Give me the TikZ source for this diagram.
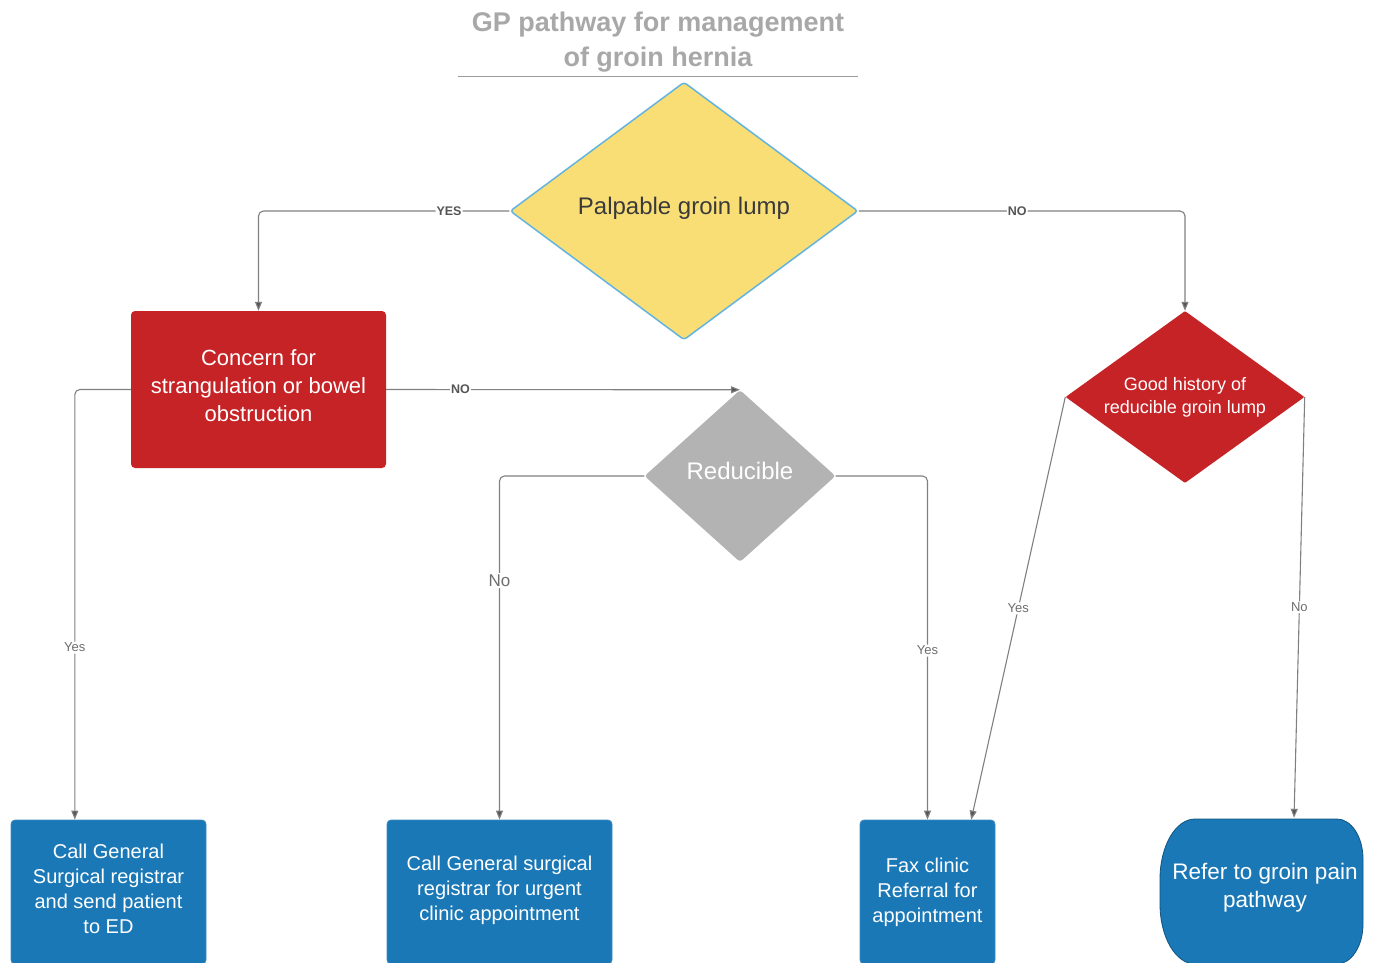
\documentclass[tikz,border=0pt]{standalone}
\usepackage{fontspec}
\setmainfont{Liberation Sans}
\usetikzlibrary{shapes.geometric,arrows.meta,calc}
\definecolor{ygold}{HTML}{F9DE75}
\definecolor{yborder}{HTML}{63B4DF}
\definecolor{cred}{HTML}{C62327}
\definecolor{cblue}{HTML}{1A78B7}
\definecolor{cgray}{HTML}{B3B3B3}
\definecolor{lgray}{HTML}{808080}
\definecolor{tgray}{HTML}{A8A8A8}
\definecolor{lblgray}{HTML}{555555}
\definecolor{dtext}{HTML}{3A3A3A}
\tikzset{
  conn/.style={draw=lgray, line width=1.1pt, rounded corners=5pt,
    -{Triangle[length=9pt,width=7pt,fill=lblgray]}},
  lblbold/.style={fill=white, inner sep=1pt, text=lblgray, font=\fontsize{12.5}{14}\selectfont\bfseries},
  lblsmall/.style={fill=white, inner sep=1.5pt, text=lblgray!85, font=\fontsize{13}{15}\selectfont},
  redbox/.style={rectangle, rounded corners=4pt, fill=cred, text=white, align=center, inner sep=0pt},
  bluebox/.style={rectangle, rounded corners=4pt, fill=cblue, draw=cblue!85!white, line width=0.8pt, text=white, align=center, inner sep=0pt,
    font=\fontsize{20}{25}\selectfont},
  dia/.style={diamond, inner sep=0pt, align=center, rounded corners=3pt}
}
\begin{document}
\begin{tikzpicture}[x=1pt,y=-1pt]
\useasboundingbox (0,0) rectangle (1377,962);
\clip (0,0) rectangle (1377,962);
\fill[white] (0,0) rectangle (1377,962);

% title
\node[font=\fontsize{27}{35}\selectfont\bfseries, text=tgray, align=center] (title) at (658,42) {GP pathway for management\\of groin hernia};
\draw[lgray!80, line width=0.8pt] (458,76) -- (858,76);

% decision nodes
\node[dia, fill=ygold, draw=yborder, line width=1.5pt, minimum width=348, minimum height=258,
  text=dtext, text depth=11pt, font=\fontsize{24}{28}\selectfont] (d1) at (684,211) {Palpable groin lump};
\node[redbox, minimum width=255, minimum height=157, text depth=8pt, font=\fontsize{22}{28}\selectfont] (r1) at (258.5,389.5)
  {Concern for\\strangulation or bowel\\obstruction};
\node[dia, fill=cgray, minimum width=191, minimum height=172, text=white, text depth=10pt,
  font=\fontsize{24}{28}\selectfont] (d3) at (740,476) {Reducible};
\node[dia, fill=cred, shape aspect=1.39, minimum width=239, minimum height=172, text=white, rounded corners=1pt,
  font=\fontsize{18}{23}\selectfont] (d2) at (1185,397) {Good history of\\reducible groin lump};

% end boxes
\node[bluebox, minimum width=195, minimum height=144, text depth=6pt] (b1) at (108.5,892)
  {Call General\\Surgical registrar\\and send patient\\to ED};
\node[bluebox, minimum width=225, minimum height=144, text depth=8pt] (b2) at (499.5,892)
  {Call General surgical\\registrar for urgent\\clinic appointment};
\node[bluebox, minimum width=135, minimum height=144] (b3) at (927.5,892)
  {Fax clinic\\Referral for\\appointment};
\fill[cblue, draw=cblue!70!black, line width=0.8pt]
  (1195,819) -- (1337,819) arc[start angle=-90,end angle=0,x radius=26,y radius=40]
  -- (1363,924) arc[start angle=0,end angle=90,x radius=26,y radius=40]
  -- (1195,964) arc[start angle=90,end angle=180,x radius=35,y radius=60]
  -- (1160,879) arc[start angle=180,end angle=270,x radius=35,y radius=60] -- cycle;
\node[align=center, text=white, inner sep=0pt, minimum width=210, minimum height=140,
  font=\fontsize{22.5}{28}\selectfont] (b4) at (1265,888) {Refer to groin pain\\pathway};

% connectors
\draw[conn] (d1.west) -| node[lblbold, pos=0.12] {YES} (r1.north);
\draw[conn] (d1.east) -| node[lblbold, pos=0.243] {NO} (d2.north);
\draw[conn] (r1.east) -- node[lblbold, pos=0.21] {NO} (d3.north);
\draw[conn] (r1.west) -| node[lblsmall, pos=0.8] {Yes} ($(b1.north west)!0.328!(b1.north east)$);
\draw[conn] (d3.west) -| node[lblsmall, pos=0.652, font=\fontsize{17}{19}\selectfont] {No} (b2.north);
\draw[conn] (d3.east) -| node[lblsmall, pos=0.754] {Yes} (b3.north);
\draw[conn] (d2.west) -- node[lblsmall, pos=0.5] {Yes} ($(b3.north west)!0.822!(b3.north east)$);
\draw[conn] (d2.east) -- node[lblsmall, pos=0.5] {No} ($(b4.north west)!0.638!(b4.north east)$);
\end{tikzpicture}
\end{document}
